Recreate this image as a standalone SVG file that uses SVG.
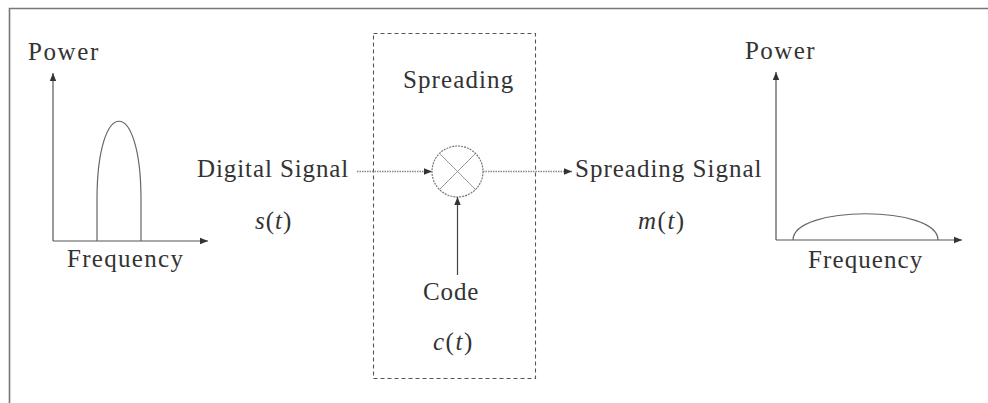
<svg xmlns="http://www.w3.org/2000/svg" width="988" height="403" viewBox="0 0 988 403">
<defs>
<style>
.ax{stroke:#555;stroke-width:1.2;fill:none}
.curve{stroke:#666;stroke-width:1.2;fill:none}
.dot{stroke:#888;stroke-width:1.3;stroke-dasharray:1.5 1;fill:none}
.solid{stroke:#444;stroke-width:1.2;fill:none}
</style>
<marker id="ah" viewBox="0 0 10 10" refX="10" refY="5" markerWidth="8" markerHeight="8" markerUnits="userSpaceOnUse" orient="auto">
<path d="M0,1 L10,5 L0,9 z" fill="#333"/>
</marker>
</defs>
<rect width="988" height="403" fill="#fff"/>
<g id="frame">
<path d="M988,8.5 H9.5 V403" stroke="#777" stroke-width="1.6" fill="none"/>
</g>
<g id="input-spectrum">
<line class="ax" x1="53" y1="241" x2="53" y2="73" marker-end="url(#ah)"/>
<line class="ax" x1="53" y1="241" x2="208" y2="241" marker-end="url(#ah)"/>
<path class="curve" d="M97,241 L97,200 C97,95 141,95 141,200 L141,241"/>
<text x="28" y="60" font-family="Liberation Serif" font-size="25" fill="#333" style="font-family:'Liberation Serif',serif;letter-spacing:1.6px">Power</text>
<text x="67" y="267" font-family="Liberation Serif" font-size="25" fill="#333" style="font-family:'Liberation Serif',serif;letter-spacing:1.3px">Frequency</text>
</g>
<g id="digital-signal">
<text x="197" y="177" font-family="Liberation Serif" font-size="25" fill="#333" style="font-family:'Liberation Serif',serif;letter-spacing:0.9px">Digital Signal</text>
<text x="255" y="229" font-family="Liberation Serif" font-size="25" fill="#333" style="font-family:'Liberation Serif',serif;letter-spacing:1px"><tspan font-style="italic">s</tspan>(<tspan font-style="italic">t</tspan>)</text>
</g>
<g id="spreading-box">
<rect x="373.5" y="33.5" width="162" height="345" fill="none" stroke="#555" stroke-width="1.1" stroke-dasharray="4 3"/>
<text x="403" y="88" font-family="Liberation Serif" font-size="25" fill="#333" style="font-family:'Liberation Serif',serif;letter-spacing:1.1px">Spreading</text>
</g>
<g id="multiplier">
<circle cx="457.5" cy="171.5" r="25.5" fill="none" stroke="#777" stroke-width="1.2" stroke-dasharray="2 1"/>
<line x1="439.5" y1="153.5" x2="475.5" y2="189.5" stroke="#999" stroke-width="1"/>
<line x1="475.5" y1="153.5" x2="439.5" y2="189.5" stroke="#999" stroke-width="1"/>
</g>
<g id="code">
<text x="423" y="300" font-family="Liberation Serif" font-size="25" fill="#333" style="font-family:'Liberation Serif',serif;letter-spacing:0.9px">Code</text>
<text x="433" y="350" font-family="Liberation Serif" font-size="25" fill="#333" style="font-family:'Liberation Serif',serif;letter-spacing:1.5px"><tspan font-style="italic">c</tspan>(<tspan font-style="italic">t</tspan>)</text>
</g>
<g id="spreading-signal">
<text x="575" y="177" font-family="Liberation Serif" font-size="25" fill="#333" style="font-family:'Liberation Serif',serif;letter-spacing:1px">Spreading Signal</text>
<text x="638" y="229" font-family="Liberation Serif" font-size="25" fill="#333" style="font-family:'Liberation Serif',serif;letter-spacing:1.5px"><tspan font-style="italic">m</tspan>(<tspan font-style="italic">t</tspan>)</text>
</g>
<g id="output-spectrum">
<line class="ax" x1="776" y1="240" x2="776" y2="72" marker-end="url(#ah)"/>
<line class="ax" x1="776" y1="240" x2="962" y2="240" marker-end="url(#ah)"/>
<path class="curve" d="M793,240 C793,205 938,205 938,240"/>
<text x="745" y="59" font-family="Liberation Serif" font-size="25" fill="#333" style="font-family:'Liberation Serif',serif;letter-spacing:1.4px">Power</text>
<text x="808" y="268" font-family="Liberation Serif" font-size="25" fill="#333" style="font-family:'Liberation Serif',serif;letter-spacing:1.1px">Frequency</text>
</g>
<g id="connectors">
<line class="dot" x1="357" y1="171.5" x2="432" y2="171.5" marker-end="url(#ah)"/>
<line class="dot" x1="483" y1="171.5" x2="572" y2="171.5" marker-end="url(#ah)"/>
<line class="solid" x1="457.5" y1="275" x2="457.5" y2="197" marker-end="url(#ah)"/>
</g>
</svg>
